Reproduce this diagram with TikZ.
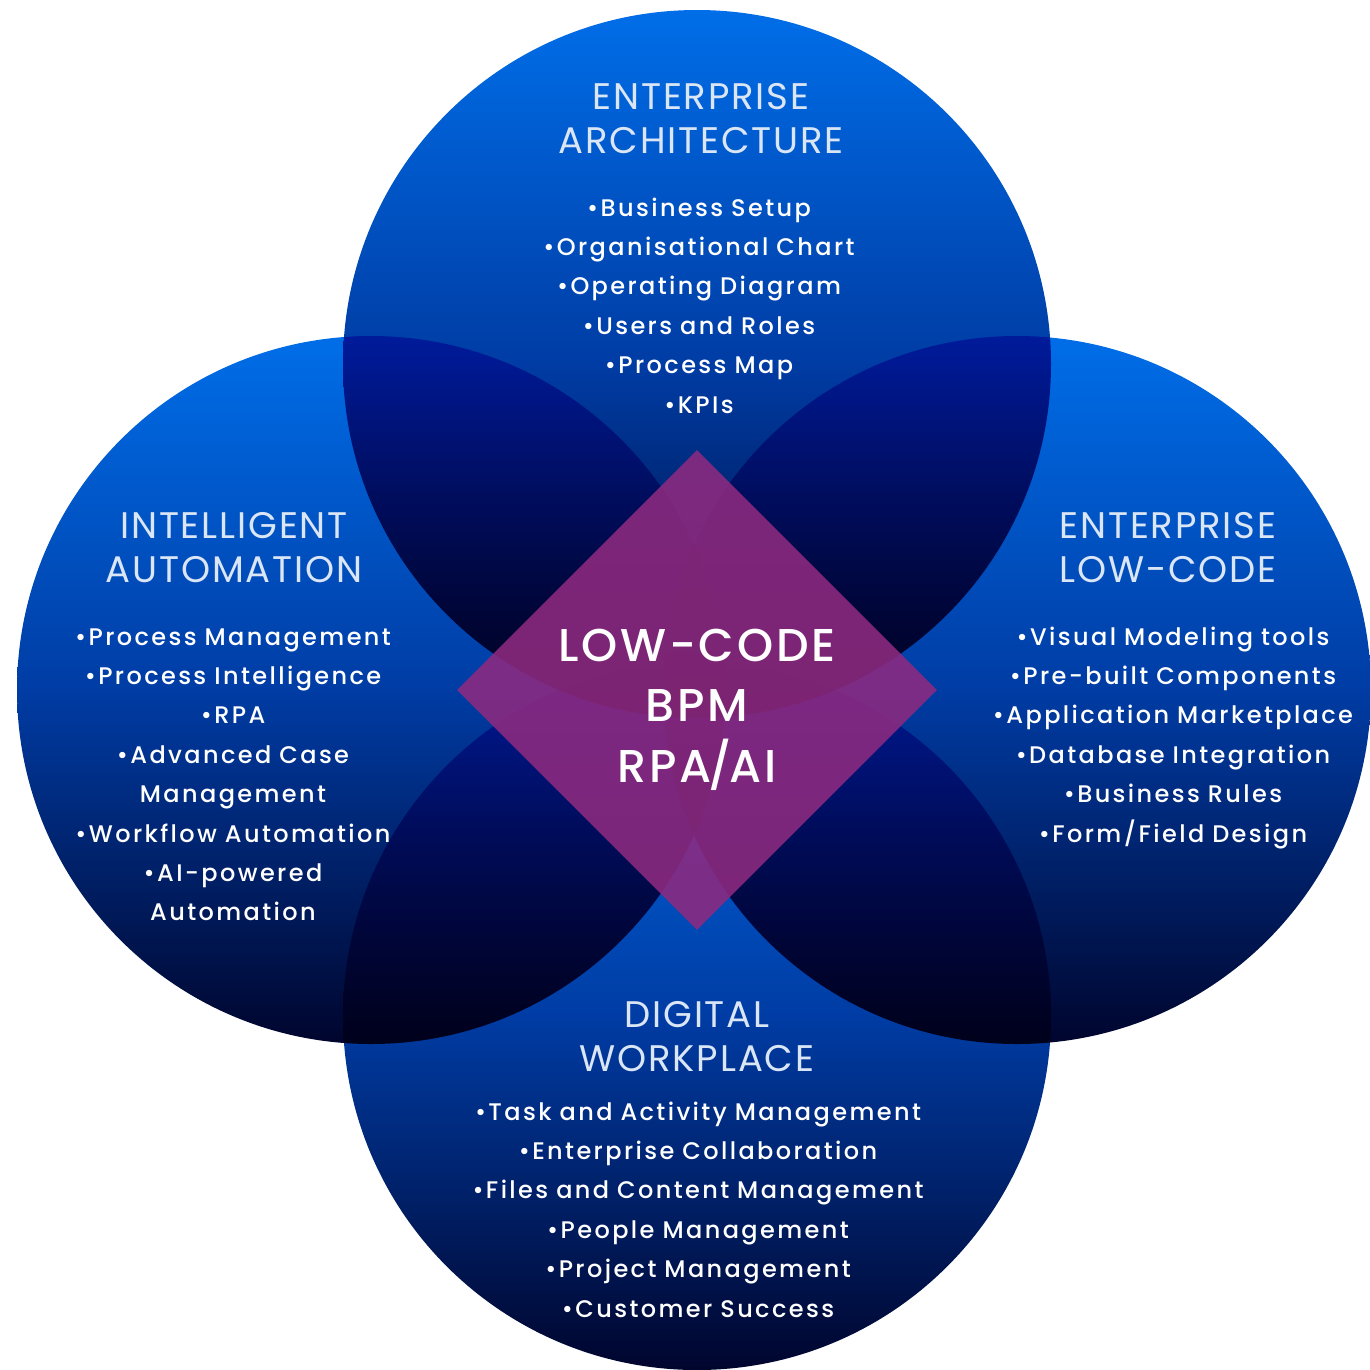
\documentclass[tikz,border=0pt]{standalone}
\usepackage{fontspec}
\setmainfont{Poppins}
\newfontfamily\headfont[LetterSpace=5]{Poppins}
\newfontfamily\bodyfont[LetterSpace=10,UprightFont=* Medium]{Poppins}
\newfontfamily\corefont[LetterSpace=6,UprightFont=* Medium]{Poppins}
\usetikzlibrary{shapes.geometric}
\definecolor{cA}{RGB}{0,110,232}
\definecolor{cB}{RGB}{0,60,164}
\definecolor{cC}{RGB}{0,5,45}
\definecolor{dia}{RGB}{142,42,128}
\definecolor{headc}{RGB}{218,230,246}
\tikzset{
  circ/.style={top color=cA, bottom color=cC, middle color=cB},
  headtxt/.style={text=headc, font=\headfont\fontsize{37}{44}\selectfont, align=center, text width=500pt, anchor=base, inner sep=0pt},
  bodytxt/.style={text=white, font=\bodyfont\fontsize{24}{39.4}\selectfont, align=center, text width=500pt, anchor=base, inner sep=0pt},
  coretxt/.style={text=white, font=\corefont\fontsize{46}{60.5}\selectfont, align=center, text width=400pt, anchor=base, inner sep=0pt},
}
\begin{document}
\begin{tikzpicture}[x=1pt,y=-1pt]
\fill[white] (0,0) rectangle (1370,1369);
\useasboundingbox (0,0) rectangle (1370,1369);
\coordinate (ct) at (697,364);
\coordinate (cl) at (371,690);
\coordinate (cr) at (1017,690);
\coordinate (cb) at (697,1016);
\begin{scope}[blend mode=multiply]
\shade[circ] (ct) circle[radius=354pt];
\shade[circ] (cl) circle[radius=354pt];
\shade[circ] (cr) circle[radius=354pt];
\shade[circ] (cb) circle[radius=354pt];
\end{scope}
\node (core) [diamond, aspect=1, minimum width=480pt, minimum height=480pt, inner sep=0pt, fill=dia, fill opacity=0.88] at (697,690) {};
\node (coretext) [coretxt] at (697,661) {LOW-CODE\\BPM\\RPA\kern-3pt/\kern-3pt AI};
% top
\node (th) [headtxt] at (701,109) {ENTERPRISE\\ARCHITECTURE};
\node (tb) [bodytxt] at (699,216) {•Business Setup\\•Organisational Chart\\•Operating Diagram\\•Users and Roles\\•Process Map\\•KPIs};
% left
\node (lh) [headtxt] at (234,538) {INTELLIGENT\\AUTOMATION};
\node (lb) [bodytxt] at (233,645) {•Process Management\\•Process Intelligence\\•RPA\\•Advanced Case\\Management\\•Workflow Automation\\•AI-powered\\Automation};
% right
\node (rh) [headtxt] at (1168,538) {ENTERPRISE\\LOW-CODE};
\node (rb) [bodytxt] at (1173,645) {•Visual Modeling tools\\•Pre-built Components\\•Application Marketplace\\•Database Integration\\•Business Rules\\•Form/Field Design};
% bottom
\node (bh) [headtxt] at (697,1027) {DIGITAL\\WORKPLACE};
\node (bb) [bodytxt] at (698,1120) {•Task and Activity Management\\•Enterprise Collaboration\\•Files and Content Management\\•People Management\\•Project Management\\•Customer Success};
\end{tikzpicture}
\end{document}
